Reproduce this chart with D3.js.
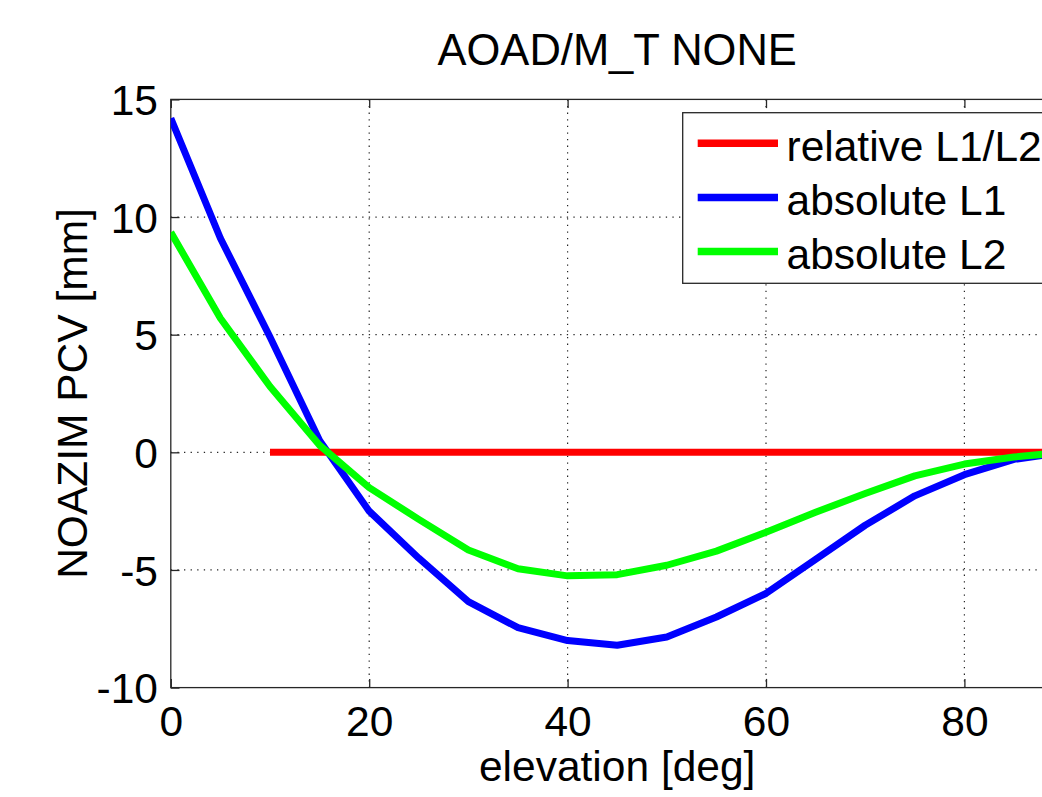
<!DOCTYPE html>
<html>
<head>
<meta charset="utf-8">
<script src="https://cdn.jsdelivr.net/npm/d3@7/dist/d3.min.js"></script>
<style>
  html, body { margin: 0; padding: 0; background: #fff; overflow: hidden; }
  svg { display: block; }
  text { font-family: "Liberation Sans", Arial, Helvetica, sans-serif; fill: #000; }
</style>
</head>
<body>
<svg id="chart" width="1042" height="797"></svg>
<script>
// ---- data ----
const titleText = "AOAD/M_T NONE";
const xLabel = "elevation [deg]";
const yLabel = "NOAZIM PCV [mm]";
const xTicks = [0, 20, 40, 60, 80];
const yTicks = [-10, -5, 0, 5, 10, 15];
const elevation = [0, 5, 10, 15, 20, 25, 30, 35, 40, 45, 50, 55, 60, 65, 70, 75, 80, 85, 90];
const absoluteL1 = [14.2, 9.1, 4.9, 0.5, -2.5, -4.5, -6.35, -7.45, -8.0, -8.2, -7.85, -7.0, -6.0, -4.55, -3.1, -1.85, -0.95, -0.3, 0.0];
const absoluteL2 = [9.35, 5.7, 2.8, 0.3, -1.5, -2.85, -4.15, -4.95, -5.25, -5.2, -4.8, -4.2, -3.4, -2.55, -1.75, -1.0, -0.5, -0.2, 0.0];
const relElevation = [10, 15, 20, 25, 30, 35, 40, 45, 50, 55, 60, 65, 70, 75, 80, 85, 90];
const relativeL1L2 = [0, 0, 0, 0, 0, 0, 0, 0, 0, 0, 0, 0, 0, 0, 0, 0, 0];
const seriesNames = ["relative L1/L2", "absolute L1", "absolute L2"];
const seriesColors = ["#ff0000", "#0000ff", "#00ff00"];

(function () {
// ---- layout ----
const svg = d3.select("#chart");
const pL = 170.8, pT = 99.4, pB = 687.6;
const pR = pL + 9.92 * 90;
const x = d3.scaleLinear().domain([0, 90]).range([pL, pR]);
const y = d3.scaleLinear().domain([-10, 15]).range([pB, pT]);
const axisColor = "#262626";
const fontSize = 42.5;
const tickLen = 8.7;
const fmt = d => String(d);

svg.append("defs").append("clipPath").attr("id", "plotclip")
  .append("rect").attr("x", pL).attr("y", pT).attr("width", pR - pL).attr("height", pB - pT);

// grid
const grid = svg.append("g");
grid.selectAll("line.gx").data(xTicks.filter(d => d > 0)).enter().append("line")
  .attr("x1", d => x(d)).attr("x2", d => x(d)).attr("y1", pT).attr("y2", pB)
  .attr("stroke", axisColor).attr("stroke-width", 1.2).attr("stroke-dasharray", "1.3,5.3");
grid.selectAll("line.gy").data(yTicks.filter(d => d > -10 && d < 15)).enter().append("line")
  .attr("x1", pL).attr("x2", pR).attr("y1", d => y(d)).attr("y2", d => y(d))
  .attr("stroke", axisColor).attr("stroke-width", 1.2).attr("stroke-dasharray", "1.3,5.3");

function styleAxis(g) {
  g.select(".domain").remove();
  g.selectAll(".tick line").attr("stroke", axisColor).attr("stroke-width", 1.3);
  g.selectAll(".tick text").style("font-size", fontSize + "px")
    .style("font-family", '"Liberation Sans", Arial, sans-serif').attr("fill", "#000");
}
const gx = svg.append("g").attr("transform", `translate(0,${pB})`)
  .call(d3.axisBottom(x).tickValues(xTicks).tickFormat(fmt).tickSizeInner(-tickLen).tickSizeOuter(0).tickPadding(0));
styleAxis(gx);
gx.selectAll(".tick text").attr("dy", null).attr("y", 736 - pB);

const gxt = svg.append("g").attr("transform", `translate(0,${pT})`)
  .call(d3.axisTop(x).tickValues(xTicks).tickSizeInner(-tickLen).tickSizeOuter(0).tickFormat(""));
styleAxis(gxt);

const gy = svg.append("g").attr("transform", `translate(${pL},0)`)
  .call(d3.axisLeft(y).tickValues(yTicks).tickFormat(fmt).tickSizeInner(-tickLen).tickSizeOuter(0).tickPadding(0));
styleAxis(gy);
gy.selectAll(".tick text").attr("x", 158 - pL).attr("dy", "0.36em");

const gyr = svg.append("g").attr("transform", `translate(${pR},0)`)
  .call(d3.axisRight(y).tickValues(yTicks).tickSizeInner(-tickLen).tickSizeOuter(0).tickFormat(""));
styleAxis(gyr);

// box
svg.append("rect").attr("x", pL).attr("y", pT).attr("width", pR - pL).attr("height", pB - pT)
  .attr("fill", "none").attr("stroke", axisColor).attr("stroke-width", 1.3);

// series
const line = d3.line().x(d => x(d[0])).y(d => y(d[1]));
const plot = svg.append("g").attr("clip-path", "url(#plotclip)");
const series = [
  relElevation.map((e, i) => [e, relativeL1L2[i]]),
  elevation.map((e, i) => [e, absoluteL1[i]]),
  elevation.map((e, i) => [e, absoluteL2[i]])
];
series.forEach((s, i) => {
  plot.append("path").datum(s).attr("d", line)
    .attr("fill", "none").attr("stroke", seriesColors[i]).attr("stroke-width", 7)
    .attr("stroke-linejoin", "round").attr("stroke-linecap", "butt");
});

// legend
const lg = svg.append("g");
lg.append("rect").attr("x", 682.7).attr("y", 112.7).attr("width", 400).attr("height", 170.6)
  .attr("fill", "#fff").attr("stroke", axisColor).attr("stroke-width", 1.3);
const rowY = [143.3, 197.4, 251.6];
seriesNames.forEach((name, i) => {
  lg.append("line").attr("x1", 697.7).attr("x2", 778).attr("y1", rowY[i]).attr("y2", rowY[i])
    .attr("stroke", seriesColors[i]).attr("stroke-width", 7.5);
  lg.append("text").attr("x", 786.5).attr("y", rowY[i] + 17.6)
    .style("font-size", fontSize + "px").text(name);
});

// title and labels
svg.append("text").attr("x", (pL + pR) / 2).attr("y", 65).attr("text-anchor", "middle")
  .style("font-size", "43.5px").text(titleText);
svg.append("text").attr("x", (pL + pR) / 2).attr("y", 780.7).attr("text-anchor", "middle")
  .style("font-size", fontSize + "px").text(xLabel);
svg.append("text").attr("transform", `translate(87,${(pT + pB) / 2}) rotate(-90)`)
  .attr("text-anchor", "middle").style("font-size", fontSize + "px").text(yLabel);
})();
</script>
</body>
</html>
